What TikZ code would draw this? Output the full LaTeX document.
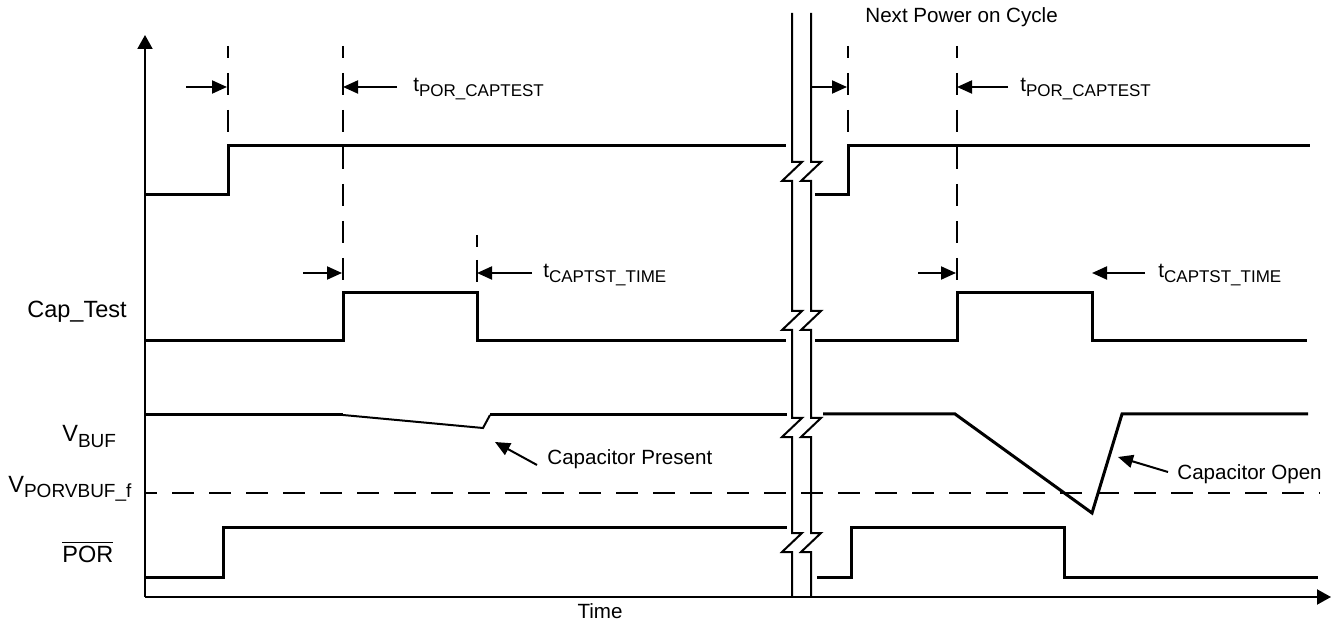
\documentclass[tikz,border=0pt]{standalone}
\usepackage{fontspec}
\setmainfont{Liberation Sans}
\usetikzlibrary{arrows.meta}

\newcommand{\lowsub}[2]{#1\raisebox{-2.25pt}{\fontsize{8.5}{9}\selectfont #2}}
\newcommand{\sigsub}[2]{#1\raisebox{-2.5pt}{\fontsize{9.5}{10}\selectfont #2}}

\begin{document}
\begin{tikzpicture}[x=0.5pt,y=-0.5pt,
  sig/.style={line width=1.5pt},
  thinline/.style={line width=1pt},
  guide/.style={line width=1pt, dash pattern=on 11pt off 7.5pt, dash phase=5pt},
  dim/.style={-{Triangle[length=7.5pt,width=6.5pt]}, line width=1pt},
  axis/.style={-{Triangle[length=7pt,width=7.5pt]}, line width=1pt},
  txt/.style={anchor=base west, inner sep=0pt, font=\fontsize{10.3}{12}\selectfont},
  siglabel/.style={anchor=base west, inner sep=0pt, font=\fontsize{11.75}{14}\selectfont}
]
\useasboundingbox (0,0) rectangle (1331,624);

% axes
\coordinate (orig) at (145,597);
\coordinate (ytop) at (145,35);
\coordinate (xend) at (1331,597);
\draw[axis] (orig) -- (ytop);
\draw[axis] (orig) -- (xend);

% signals
\draw[sig] (145,195) -- (228,195) -- (228,146) -- (786,146);
\draw[sig] (815,195) -- (848,195) -- (848,146) -- (1310,146);

\draw[sig] (145,341) -- (343,341) -- (343,293) -- (477,293) -- (477,341) -- (786,341);
\draw[sig] (815,341) -- (957,341) -- (957,293) -- (1092,293) -- (1092,341) -- (1307,341);

\draw[sig] (145,415) -- (343,415);
\draw[thinline] (343,415) -- (483,428) -- (490,415);
\draw[sig] (490,415) -- (787,415);
\draw[sig] (823,414) -- (955,414) -- (1092,513) -- (1122,414) -- (1308,414);

\draw[guide] (145,493) -- (1320,493);

\draw[sig] (145,577) -- (223,577) -- (223,527) -- (787,527);
\draw[sig] (817,577) -- (851,577) -- (851,527) -- (1064,527) -- (1064,577) -- (1318,577);

% time marks
\draw[guide] (228,46) -- (228,146);
\draw[guide] (343,46) -- (343,293);
\draw[guide] (848,46) -- (848,146);
\draw[guide] (957,46) -- (957,293);
\draw[thinline, dash pattern=on 6pt off 6.5pt on 11pt off 2pt] (477,235) -- (477,282);

\coordinate (pwr1) at (227,87);
\coordinate (cap1) at (343,87);
\coordinate (pwr2) at (847,87);
\coordinate (cap2) at (957,87);
\coordinate (rise1) at (342,273);
\coordinate (fall1) at (477,273);
\coordinate (rise2) at (956,273);
\coordinate (fall2) at (1092,273);
\draw[dim] ([xshift=-20.5pt]pwr1) -- (pwr1);
\draw[dim] ([xshift=27pt]cap1) -- (cap1);
\draw[dim] ([xshift=-18.5pt]pwr2) -- (pwr2);
\draw[dim] ([xshift=25.5pt]cap2) -- (cap2);
\draw[dim] ([xshift=-19.5pt]rise1) -- (rise1);
\draw[dim] ([xshift=27.5pt]fall1) -- (fall1);
\draw[dim] ([xshift=-19pt]rise2) -- (rise2);
\draw[dim] ([xshift=26.5pt]fall2) -- (fall2);

% break
\foreach \bx in {792,811}
  \draw[thinline] (\bx,13) -- (\bx,162) -- ++(10,0) -- ++(-20,19) -- ++(10,0)
    -- (\bx,311) -- ++(10,0) -- ++(-20,19) -- ++(10,0)
    -- (\bx,418) -- ++(10,0) -- ++(-20,19) -- ++(10,0)
    -- (\bx,533) -- ++(10,0) -- ++(-20,19) -- ++(10,0) -- (\bx,596);

% labels
\node[txt] (next) at (865,23) {Next Power on Cycle};
\node[txt] (tpor1) at (413,92) {\lowsub{t}{POR\_CAPTEST}};
\node[txt] (tpor2) at (1020,92) {\lowsub{t}{POR\_CAPTEST}};
\node[txt] (tcap1) at (543,278) {\lowsub{t}{CAPTST\_TIME}};
\node[txt] (tcap2) at (1158,278) {\lowsub{t}{CAPTST\_TIME}};
\node[txt] (cp) at (547,465) {Capacitor Present};
\node[txt] (co) at (1177,480) {Capacitor Open};
\node[txt, anchor=base] (time) at (600,618) {Time};

\node[siglabel] (captest) at (27,318) {Cap\_Test};
\node[siglabel] (vbuf) at (62,442) {\sigsub{V}{BUF}};
\node[siglabel] (vporf) at (8,492) {\sigsub{V}{PORVBUF\_f}};
\node[siglabel] (por) at (62,562) {$\overline{\mbox{POR}}$};

% callouts
\coordinate (cptip) at (495,442);
\coordinate (cotip) at (1118,457);
\draw[dim] ([xshift=-5pt]cp.base west) -- (cptip);
\draw[dim] ([xshift=-4.5pt,yshift=4pt]co.base west) -- (cotip);
\end{tikzpicture}
\end{document}
